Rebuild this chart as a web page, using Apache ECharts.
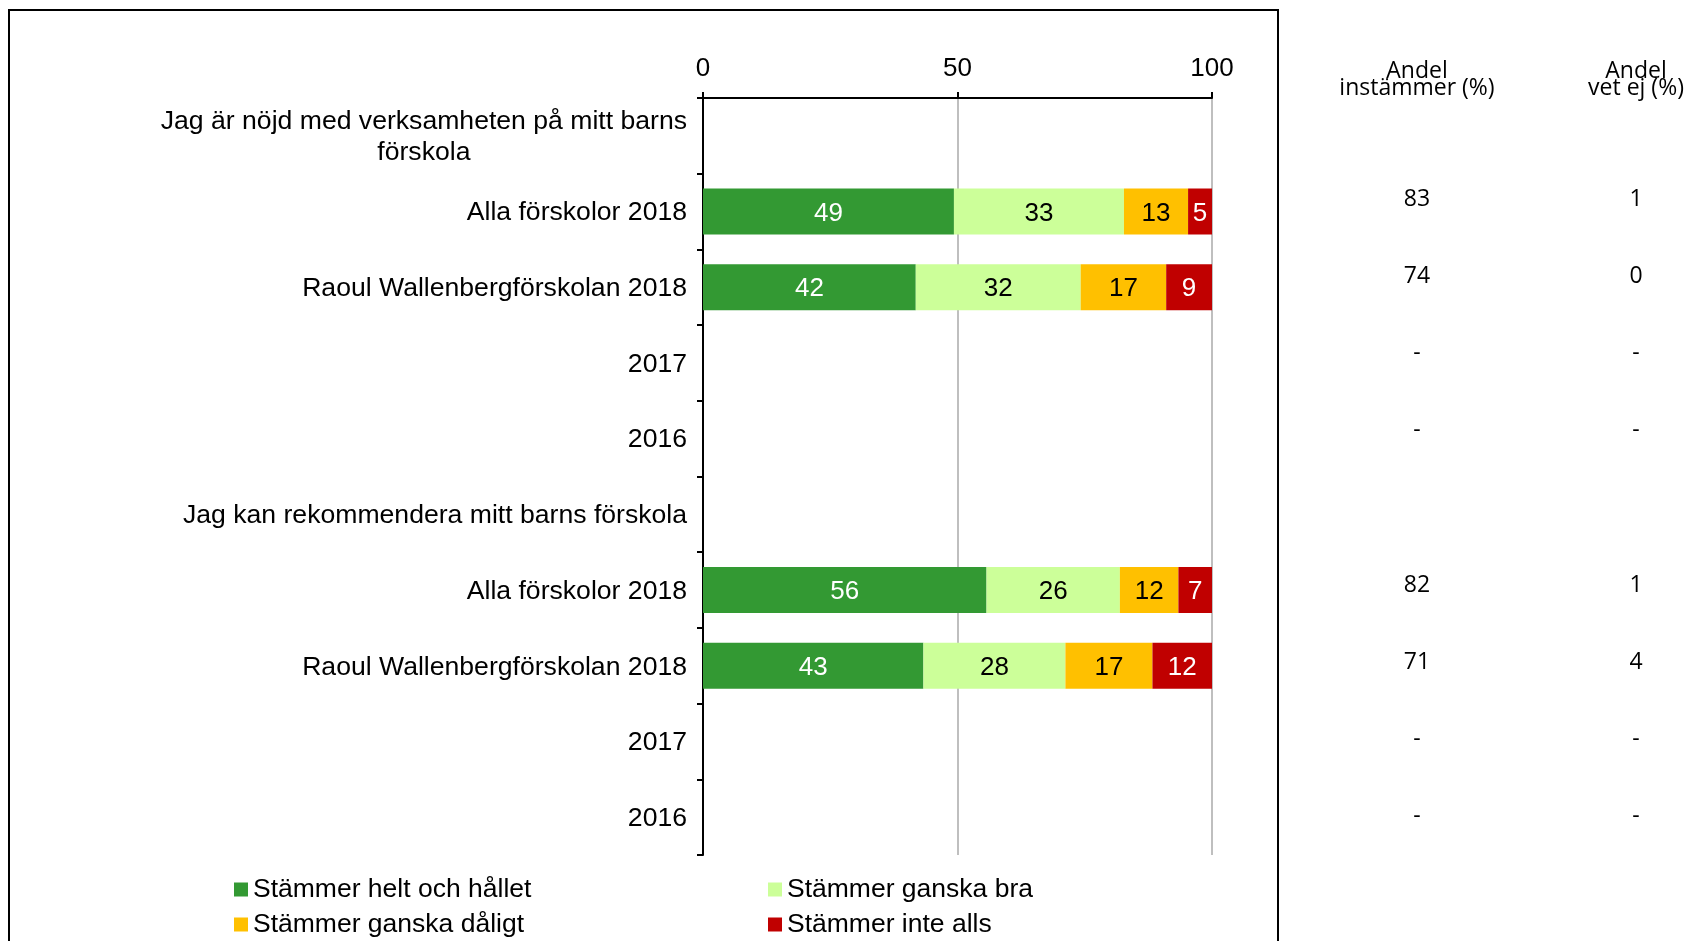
<!DOCTYPE html>
<html>
<head>
<meta charset="utf-8">
<script src="https://cdn.jsdelivr.net/npm/echarts@6/dist/echarts.min.js"></script>
<style>
  html, body { margin: 0; padding: 0; background: #fff; }
  #chart { width: 1690px; height: 941px; }
</style>
</head>
<body>
<div id="chart"></div>
<script>
// kategorier (uppifrån och ned)
var categories = [
  'Jag är nöjd med verksamheten på mitt barns\nförskola',
  'Alla förskolor 2018',
  'Raoul Wallenbergförskolan 2018',
  '2017',
  '2016',
  'Jag kan rekommendera mitt barns förskola',
  'Alla förskolor 2018',
  'Raoul Wallenbergförskolan 2018',
  '2017',
  '2016'
];
var seriesNames = ['Stämmer helt och hållet', 'Stämmer ganska bra', 'Stämmer ganska dåligt', 'Stämmer inte alls'];
var seriesColors = ['#339933', '#CCFF99', '#FFC000', '#C00000'];
var labelColors = ['#fff', '#000', '#000', '#fff'];

// andelar (%) per kategori
var heltOchHallet = [null, 49.3, 41.8, null, null, null, 55.7, 43.3, null, null];
var ganskaBra     = [null, 33.4, 32.4, null, null, null, 26.2, 27.9, null, null];
var ganskaDaligt  = [null, 12.6, 16.8, null, null, null, 11.5, 17.1, null, null];
var inteAlls      = [null, 4.7,  9.0,  null, null, null, 6.6,  11.7, null, null];

// kolumnerna till höger
var andelInstammer = ['', '83', '74', '-', '-', '', '82', '71', '-', '-'];
var andelVetEj     = ['', '1', '0', '-', '-', '', '1', '4', '-', '-'];

var xTicks = { min: 0, max: 100, interval: 50 };

var font = "'Liberation Sans', Arial, sans-serif";
var font2 = "'Open Sans', 'Noto Sans', sans-serif";

var chart = echarts.init(document.getElementById('chart'));

var values = [heltOchHallet, ganskaBra, ganskaDaligt, inteAlls];
var series = values.map(function (d, i) {
  return {
    name: seriesNames[i],
    type: 'bar',
    stack: 'total',
    barWidth: 46,
    xAxisIndex: 0,
    yAxisIndex: 0,
    data: d,
    itemStyle: { color: seriesColors[i] },
    label: {
      show: true,
      position: 'inside',
      offset: [0, 2],
      color: labelColors[i],
      fontSize: 26,
      fontFamily: font,
      formatter: function (p) { return p.value == null ? '' : Math.round(p.value); }
    }
  };
});

var option = {
  animation: false,
  grid: [
    { left: 703, right: 478, top: 98, bottom: 86 },
    { left: 1417, width: 219, top: 84, height: 771 }
  ],
  xAxis: [
    {
      type: 'value', gridIndex: 0, position: 'top',
      min: xTicks.min, max: xTicks.max, interval: xTicks.interval,
      axisLine: { show: true, lineStyle: { color: '#000', width: 2 } },
      axisTick: { show: true, length: 6, lineStyle: { color: '#000', width: 2 } },
      axisLabel: { color: '#000', fontSize: 26, fontFamily: font, margin: 16 },
      splitLine: { show: true, lineStyle: { color: '#BFBFBF', width: 2 } }
    },
    { type: 'value', gridIndex: 1, show: false }
  ],
  yAxis: [
    {
      type: 'category', gridIndex: 0, inverse: true, data: categories,
      axisLine: { show: true, lineStyle: { color: '#000', width: 2 } },
      axisTick: { show: true, length: 6, lineStyle: { color: '#000', width: 2 } },
      axisLabel: {
        color: '#000', fontSize: 26.6, fontFamily: font, margin: 16,
        formatter: function (v) {
          return v.split('\n').map(function (s) { return '{c|' + s + '}'; }).join('\n');
        },
        rich: { c: { align: 'center', fontSize: 26.6, lineHeight: 31, padding: [3, 0, 0, 0], color: '#000', fontFamily: font } }
      },
      splitLine: { show: false }
    },
    {
      type: 'category', gridIndex: 1, inverse: true, position: 'left', data: andelInstammer,
      axisLine: { show: false }, axisTick: { show: false },
      axisLabel: { align: 'center', margin: 0, color: '#000', fontSize: 23, fontFamily: font2 }
    },
    {
      type: 'category', gridIndex: 1, inverse: true, position: 'right', data: andelVetEj,
      axisLine: { show: false }, axisTick: { show: false },
      axisLabel: { align: 'center', margin: 0, color: '#000', fontSize: 23, fontFamily: font2 }
    }
  ],
  legend: [
    {
      data: [seriesNames[0], seriesNames[2]],
      orient: 'vertical', left: 234, top: 876, padding: 0,
      icon: 'rect', itemWidth: 14, itemHeight: 14, itemGap: 8,
      textStyle: { color: '#000', fontSize: 26.5, lineHeight: 26, fontFamily: font }
    },
    {
      data: [seriesNames[1], seriesNames[3]],
      orient: 'vertical', left: 768, top: 876, padding: 0,
      icon: 'rect', itemWidth: 14, itemHeight: 14, itemGap: 8,
      textStyle: { color: '#000', fontSize: 26.5, lineHeight: 26, fontFamily: font }
    }
  ],
  graphic: [
    {
      type: 'rect', shape: { x: 9, y: 10, width: 1269, height: 1000 },
      style: { fill: 'none', stroke: '#000', lineWidth: 2 }, silent: true
    },
    {
      type: 'text', x: 1417, y: 63,
      style: { text: 'Andel\ninstämmer (%)', align: 'center', verticalAlign: 'top', fontSize: 23, lineHeight: 17, fontFamily: font2, fill: '#000' }
    },
    {
      type: 'text', x: 1636, y: 63,
      style: { text: 'Andel\nvet ej (%)', align: 'center', verticalAlign: 'top', fontSize: 23, lineHeight: 17, fontFamily: font2, fill: '#000' }
    }
  ],
  series: series
};

chart.setOption(option);
</script>
</body>
</html>
